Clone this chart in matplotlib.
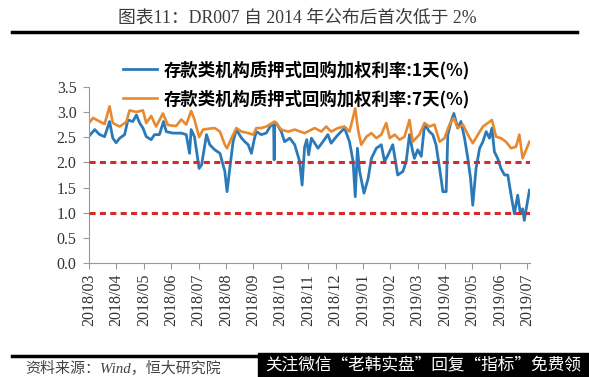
import matplotlib.pyplot as plt
from matplotlib.lines import Line2D
from matplotlib.patches import Rectangle

plt.rcParams['font.family'] = ['Liberation Serif', 'Noto Sans CJK SC']

# x = months since 2018/03/01
month_labels = ['2018/03', '2018/04', '2018/05', '2018/06', '2018/07', '2018/08',
                '2018/09', '2018/10', '2018/11', '2018/12', '2019/01', '2019/02',
                '2019/03', '2019/04', '2019/05', '2019/06', '2019/07']

r1_x = [0.00, 0.21, 0.39, 0.57, 0.75, 0.87, 0.99, 1.12, 1.30, 1.42, 1.60, 1.73, 1.85,
        1.97, 2.09, 2.27, 2.39, 2.57, 2.72, 2.82, 3.06, 3.37, 3.55, 3.67, 3.73, 3.85,
        4.02, 4.11, 4.29, 4.41, 4.59, 4.78, 4.96, 5.04, 5.14, 5.26, 5.38, 5.57, 5.69,
        5.81, 5.93, 6.03, 6.11, 6.29, 6.47, 6.66, 6.74, 6.76, 6.78, 6.84, 7.02, 7.14,
        7.33, 7.51, 7.69, 7.78, 7.87, 7.95, 8.02, 8.12, 8.36, 8.54, 8.72, 8.84, 9.03,
        9.15, 9.33, 9.51, 9.64, 9.72, 9.80, 9.88, 10.04, 10.19, 10.31, 10.49, 10.67,
        10.79, 10.92, 11.09, 11.27, 11.46, 11.58, 11.70, 11.82, 11.88, 12.00, 12.13,
        12.25, 12.43, 12.55, 12.67, 12.80, 12.92, 13.04, 13.10, 13.22, 13.32, 13.46,
        13.58, 13.71, 13.83, 13.93, 14.01, 14.13, 14.26, 14.38, 14.50, 14.62, 14.71,
        14.80, 14.92, 15.04, 15.17, 15.29, 15.41, 15.53, 15.65, 15.75, 15.83, 15.89,
        16.08]
r1_y = [2.52, 2.65, 2.55, 2.51, 2.81, 2.48, 2.39, 2.48, 2.55, 2.84, 2.81, 2.94, 2.78,
        2.68, 2.51, 2.45, 2.55, 2.55, 2.81, 2.61, 2.58, 2.58, 2.55, 2.18, 2.65, 2.51,
        1.88, 1.95, 2.55, 2.35, 2.25, 2.18, 1.82, 1.42, 1.88, 2.41, 2.65, 2.48, 2.41,
        2.35, 2.18, 2.45, 2.61, 2.55, 2.58, 2.75, 2.72, 2.05, 2.75, 2.78, 2.61, 2.41,
        2.48, 2.35, 2.02, 1.55, 2.30, 2.45, 2.15, 2.48, 2.28, 2.41, 2.55, 2.38, 2.51,
        2.58, 2.68, 2.41, 2.02, 1.32, 2.28, 1.82, 1.39, 1.68, 2.08, 2.28, 2.35,
        2.02, 2.15, 2.35, 1.75, 1.82, 2.02, 2.55, 2.21, 2.08, 2.25, 2.12,
        2.75, 2.61, 2.55, 2.35, 1.88, 1.42, 1.42, 2.55, 2.81, 2.97, 2.68,
        2.81, 2.48, 2.08, 1.68, 1.15, 1.88, 2.28, 2.41, 2.61, 2.48, 2.68,
        2.21, 2.08, 1.88, 1.75, 1.75, 1.35, 0.98, 1.35, 0.98, 1.08, 0.85,
        1.45]

r7_x = [0.00, 0.15, 0.39, 0.57, 0.75, 0.87, 1.12, 1.36, 1.48, 1.73, 1.97, 2.09, 2.27,
        2.45, 2.70, 2.88, 3.18, 3.37, 3.55, 3.73, 3.85, 4.02, 4.16, 4.40, 4.59, 4.78,
        4.96, 5.04, 5.20, 5.38, 5.57, 5.81, 6.00, 6.11, 6.29, 6.47, 6.78, 7.02, 7.27,
        7.51, 7.87, 8.24, 8.48, 8.66, 8.84, 9.09, 9.33, 9.51, 9.72, 9.82, 9.94, 10.13,
        10.31, 10.49, 10.67, 10.85, 10.98, 11.16, 11.34, 11.52, 11.70, 11.82, 12.06,
        12.25, 12.43, 12.61, 12.80, 12.98, 13.16, 13.32, 13.46, 13.65, 13.83, 14.01,
        14.20, 14.38, 14.56, 14.71, 14.86, 15.04, 15.22, 15.41, 15.59, 15.71, 15.83,
        16.08]
r7_y = [2.78, 2.88, 2.81, 2.76, 3.11, 2.78, 2.71, 2.80, 3.03, 3.00, 3.03, 2.78, 2.92,
        2.71, 2.97, 2.74, 2.72, 2.85, 2.75, 3.02, 2.85, 2.50, 2.65, 2.67, 2.68, 2.61,
        2.35, 2.28, 2.48, 2.68, 2.61, 2.58, 2.55, 2.68, 2.68, 2.71, 2.81, 2.65, 2.61,
        2.65, 2.58, 2.68, 2.61, 2.71, 2.61, 2.68, 2.71, 2.61, 3.07, 2.65, 2.35, 2.51,
        2.58, 2.48, 2.55, 2.78, 2.48, 2.55, 2.45, 2.51, 2.84, 2.41, 2.55,
        2.78, 2.71, 2.75, 2.41, 2.48, 2.75, 2.88, 2.68, 2.75, 2.55, 2.38,
        2.55, 2.71, 2.78, 2.84, 2.51, 2.48, 2.41, 2.28, 2.31, 2.55, 2.08,
        2.41]

ref_levels = [2.0, 1.0]

W, H = 589, 377
fig = plt.figure(figsize=(W / 100, H / 100), dpi=100)
ax = fig.add_axes([89 / W, 1 - 263.3 / H, (530 - 89) / W, (263.3 - 86.7) / H])

l1, = ax.plot(r1_x, r1_y, color='#2a7ab9', lw=2.0)
l7, = ax.plot(r7_x, r7_y, color='#e8892f', lw=1.9)
for lv in ref_levels:
    ax.axhline(lv, color='#d42b2b', lw=2.2, ls=(0, (2, 1.4)), zorder=3)

ax.set_xlim(0, 16.1)
ax.set_ylim(0, 3.5)
ax.set_yticks([0, 0.5, 1.0, 1.5, 2.0, 2.5, 3.0, 3.5])
ax.set_yticklabels(['%.1f' % v for v in ax.get_yticks()])
ax.set_xticks(range(len(month_labels)))
ax.set_xticklabels(month_labels, rotation=90)
for s in ['top', 'right']:
    ax.spines[s].set_visible(False)
for s in ['left', 'bottom']:
    ax.spines[s].set_color('#999999')
ax.tick_params(colors='#999999', length=4, labelsize=11.5, labelcolor='#333333')
ax.tick_params(axis='y', pad=5)

fig.legend([l1, l7], ['存款类机构质押式回购加权利率:1天(%)', '存款类机构质押式回购加权利率:7天(%)'],
           loc='upper left', bbox_to_anchor=(114 / W, 1 - 52 / H), frameon=False,
           prop={'family': ['Noto Sans CJK SC'], 'weight': 'bold', 'size': 12.5},
           labelspacing=0.6, handlelength=2.0, handletextpad=0.35, borderpad=0)

fig.text(0.505, 1 - 18 / H, '图表11：DR007 自 2014 年公布后首次低于 2%', ha='center', va='center',
         fontsize=12.8, color='#3a3a3a')
fig.add_artist(Line2D([12 / W, 577 / W], [1 - 32 / H] * 2, color='black', lw=2.5))
fig.add_artist(Line2D([12 / W, 260 / W], [1 - 356 / H] * 2, color='black', lw=2.5))
fig.text(25 / W, 1 - 368.5 / H, '资料来源：Wind，恒大研究院', ha='left', va='center',
         fontsize=10.8, style='italic', color='#444444')
fig.add_artist(Rectangle((258 / W, 0), (W - 258) / W, 24 / H, transform=fig.transFigure,
                         color='black'))
fig.text(265 / W, 1 - 366 / H, '关注微信“老韩实盘”回复“指标”免费领', ha='left', va='center',
         fontsize=12.0, color='white', family=['Noto Sans CJK SC'])

fig.savefig('out.png', dpi=100)
